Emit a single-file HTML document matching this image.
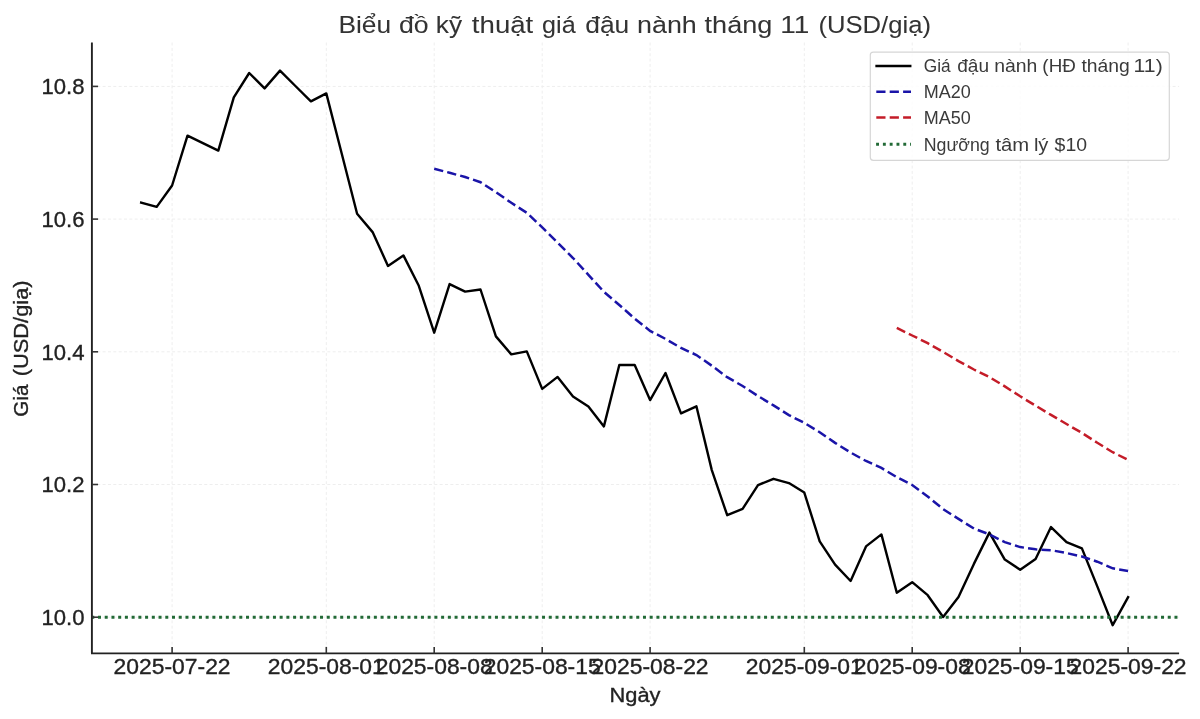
<!DOCTYPE html>
<html><head><meta charset="utf-8"><style>
html,body{margin:0;padding:0;background:#fff;}
svg{display:block;will-change:transform;}
text{font-family:"Liberation Sans", sans-serif;}
.grid{stroke:#eeeeee;stroke-width:1;stroke-dasharray:3 2.35;}
.tick{font-size:22px;fill:#222;stroke:#222;stroke-width:0.35px;}
.ytick{font-size:22px;fill:#222;stroke:#222;stroke-width:0.35px;}
.lab{font-size:20.5px;fill:#222;stroke:#222;stroke-width:0.35px;}
.title{font-size:24.5px;fill:#333;stroke:#333;stroke-width:0.05px;}
.leg{font-size:17.5px;fill:#3a3a3a;}
</style></head><body>
<svg width="1200" height="719" viewBox="0 0 1200 719">
<line x1="91.9" y1="617.2" x2="1179.1" y2="617.2" class="grid"/>
<line x1="91.9" y1="484.5" x2="1179.1" y2="484.5" class="grid"/>
<line x1="91.9" y1="351.8" x2="1179.1" y2="351.8" class="grid"/>
<line x1="91.9" y1="219.1" x2="1179.1" y2="219.1" class="grid"/>
<line x1="91.9" y1="86.4" x2="1179.1" y2="86.4" class="grid"/>
<line x1="172.1" y1="42.5" x2="172.1" y2="653.4" class="grid"/>
<line x1="326.3" y1="42.5" x2="326.3" y2="653.4" class="grid"/>
<line x1="434.2" y1="42.5" x2="434.2" y2="653.4" class="grid"/>
<line x1="542.2" y1="42.5" x2="542.2" y2="653.4" class="grid"/>
<line x1="650.1" y1="42.5" x2="650.1" y2="653.4" class="grid"/>
<line x1="804.3" y1="42.5" x2="804.3" y2="653.4" class="grid"/>
<line x1="912.2" y1="42.5" x2="912.2" y2="653.4" class="grid"/>
<line x1="1020.2" y1="42.5" x2="1020.2" y2="653.4" class="grid"/>
<line x1="1128.1" y1="42.5" x2="1128.1" y2="653.4" class="grid"/>
<polyline points="141.2,202.6 156.7,206.9 172.1,185.5 187.5,135.7 202.9,143.1 218.3,150.6 233.8,97.4 249.2,73.0 264.6,88.4 280.0,70.6 295.4,86.0 310.9,101.4 326.3,93.4 341.7,153.5 357.1,213.8 372.6,232.1 388.0,265.9 403.4,255.4 418.8,285.8 434.2,332.7 449.6,284.1 465.1,291.6 480.5,289.5 495.9,336.4 511.3,354.4 526.8,351.4 542.2,388.9 557.6,376.9 573.0,396.5 588.4,406.5 603.9,426.4 619.3,365.0 634.7,365.0 650.1,400.1 665.5,373.0 681.0,413.4 696.4,406.3 711.8,470.1 727.2,515.2 742.6,508.9 758.0,485.1 773.5,478.8 788.9,483.1 804.3,492.6 819.7,541.4 835.1,564.7 850.6,581.0 866.0,546.4 881.4,534.4 896.8,592.7 912.2,582.2 927.7,595.2 943.1,617.0 958.5,597.0 973.9,563.9 989.4,532.6 1004.8,559.6 1020.2,569.7 1035.6,558.9 1051.0,527.1 1066.5,542.1 1081.9,548.4 1097.3,586.4 1112.7,625.2 1128.1,597.2" fill="none" stroke="#000" stroke-width="2.4" stroke-linejoin="round" stroke-linecap="square"/>
<polyline points="434.2,168.7 449.6,172.8 465.1,177.0 480.5,182.2 495.9,192.2 511.3,202.8 526.8,212.8 542.2,227.4 557.6,242.6 573.0,258.0 588.4,274.8 603.9,291.8 619.3,305.0 634.7,318.6 650.1,330.9 665.5,338.9 681.0,347.9 696.4,355.0 711.8,365.7 727.2,377.2 742.6,386.0 758.0,396.0 773.5,405.4 788.9,415.1 804.3,422.9 819.7,432.2 835.1,442.9 850.6,452.5 866.0,461.0 881.4,467.9 896.8,477.2 912.2,485.0 927.7,496.5 943.1,509.1 958.5,518.9 973.9,528.5 989.4,534.4 1004.8,542.1 1020.2,547.1 1035.6,549.3 1051.0,550.2 1066.5,553.0 1081.9,556.5 1097.3,561.7 1112.7,568.3 1128.1,571.1" fill="none" stroke="#1a14a8" stroke-width="2.5" stroke-dasharray="9.3 4.15"/>
<polyline points="896.8,327.9 912.2,335.5 927.7,343.2 943.1,351.9 958.5,361.1 973.9,369.5 989.4,377.1 1004.8,386.4 1020.2,396.3 1035.6,405.7 1051.0,414.9 1066.5,424.0 1081.9,432.9 1097.3,442.8 1112.7,452.2 1128.1,459.9" fill="none" stroke="#c41c28" stroke-width="2.5" stroke-dasharray="9.3 4.15"/>
<line x1="91.27" y1="617.2" x2="1177.8" y2="617.2" stroke="#226a36" stroke-width="3" stroke-dasharray="3 3.728"/>
<line x1="91.9" y1="42.5" x2="91.9" y2="653.4" stroke="#222" stroke-width="1.9"/>
<line x1="91.0" y1="653.4" x2="1179.1" y2="653.4" stroke="#222" stroke-width="1.9"/>
<line x1="91.9" y1="617.2" x2="98.10000000000001" y2="617.2" stroke="#333" stroke-width="1.6"/>
<text x="84.5" y="625.0" text-anchor="end" class="ytick" textLength="43" lengthAdjust="spacingAndGlyphs">10.0</text>
<line x1="91.9" y1="484.5" x2="98.10000000000001" y2="484.5" stroke="#333" stroke-width="1.6"/>
<text x="84.5" y="492.3" text-anchor="end" class="ytick" textLength="43" lengthAdjust="spacingAndGlyphs">10.2</text>
<line x1="91.9" y1="351.8" x2="98.10000000000001" y2="351.8" stroke="#333" stroke-width="1.6"/>
<text x="84.5" y="359.6" text-anchor="end" class="ytick" textLength="43" lengthAdjust="spacingAndGlyphs">10.4</text>
<line x1="91.9" y1="219.1" x2="98.10000000000001" y2="219.1" stroke="#333" stroke-width="1.6"/>
<text x="84.5" y="226.9" text-anchor="end" class="ytick" textLength="43" lengthAdjust="spacingAndGlyphs">10.6</text>
<line x1="91.9" y1="86.4" x2="98.10000000000001" y2="86.4" stroke="#333" stroke-width="1.6"/>
<text x="84.5" y="94.2" text-anchor="end" class="ytick" textLength="43" lengthAdjust="spacingAndGlyphs">10.8</text>
<line x1="172.1" y1="653.4" x2="172.1" y2="646.9" stroke="#333" stroke-width="1.6"/>
<text x="172.1" y="674.1" text-anchor="middle" class="tick" textLength="117" lengthAdjust="spacingAndGlyphs">2025-07-22</text>
<line x1="326.3" y1="653.4" x2="326.3" y2="646.9" stroke="#333" stroke-width="1.6"/>
<text x="326.3" y="674.1" text-anchor="middle" class="tick" textLength="117" lengthAdjust="spacingAndGlyphs">2025-08-01</text>
<line x1="434.2" y1="653.4" x2="434.2" y2="646.9" stroke="#333" stroke-width="1.6"/>
<text x="434.2" y="674.1" text-anchor="middle" class="tick" textLength="117" lengthAdjust="spacingAndGlyphs">2025-08-08</text>
<line x1="542.2" y1="653.4" x2="542.2" y2="646.9" stroke="#333" stroke-width="1.6"/>
<text x="542.2" y="674.1" text-anchor="middle" class="tick" textLength="117" lengthAdjust="spacingAndGlyphs">2025-08-15</text>
<line x1="650.1" y1="653.4" x2="650.1" y2="646.9" stroke="#333" stroke-width="1.6"/>
<text x="650.1" y="674.1" text-anchor="middle" class="tick" textLength="117" lengthAdjust="spacingAndGlyphs">2025-08-22</text>
<line x1="804.3" y1="653.4" x2="804.3" y2="646.9" stroke="#333" stroke-width="1.6"/>
<text x="804.3" y="674.1" text-anchor="middle" class="tick" textLength="117" lengthAdjust="spacingAndGlyphs">2025-09-01</text>
<line x1="912.2" y1="653.4" x2="912.2" y2="646.9" stroke="#333" stroke-width="1.6"/>
<text x="912.2" y="674.1" text-anchor="middle" class="tick" textLength="117" lengthAdjust="spacingAndGlyphs">2025-09-08</text>
<line x1="1020.2" y1="653.4" x2="1020.2" y2="646.9" stroke="#333" stroke-width="1.6"/>
<text x="1020.2" y="674.1" text-anchor="middle" class="tick" textLength="117" lengthAdjust="spacingAndGlyphs">2025-09-15</text>
<line x1="1128.1" y1="653.4" x2="1128.1" y2="646.9" stroke="#333" stroke-width="1.6"/>
<text x="1128.1" y="674.1" text-anchor="middle" class="tick" textLength="117" lengthAdjust="spacingAndGlyphs">2025-09-22</text>
<text x="635" y="702.2" text-anchor="middle" class="lab" textLength="51" lengthAdjust="spacingAndGlyphs">Ngày</text>
<text transform="translate(27.7,415.8) rotate(-90)" x="-1.01" y="0" class="lab" textLength="32.24" lengthAdjust="spacingAndGlyphs">Giá</text>
<text transform="translate(27.7,375) rotate(-90)" x="-1.33" y="0" class="lab" textLength="95.95" lengthAdjust="spacingAndGlyphs">(USD/giạ)</text>
<text x="338.45" y="32.8" class="title" textLength="52.74" lengthAdjust="spacingAndGlyphs">Biểu</text>
<text x="398.91" y="32.8" class="title" textLength="29.68" lengthAdjust="spacingAndGlyphs">đồ</text>
<text x="435.76" y="32.8" class="title" textLength="26.28" lengthAdjust="spacingAndGlyphs">kỹ</text>
<text x="471.88" y="32.8" class="title" textLength="61.35" lengthAdjust="spacingAndGlyphs">thuật</text>
<text x="542.07" y="32.8" class="title" textLength="33.60" lengthAdjust="spacingAndGlyphs">giá</text>
<text x="585.22" y="32.8" class="title" textLength="44.03" lengthAdjust="spacingAndGlyphs">đậu</text>
<text x="637.02" y="32.8" class="title" textLength="59.77" lengthAdjust="spacingAndGlyphs">nành</text>
<text x="704.59" y="32.8" class="title" textLength="67.74" lengthAdjust="spacingAndGlyphs">tháng</text>
<text x="780.35" y="32.8" class="title" textLength="29.10" lengthAdjust="spacingAndGlyphs">11</text>
<text x="818.43" y="32.8" class="title" textLength="112.59" lengthAdjust="spacingAndGlyphs">(USD/giạ)</text>
<rect x="870.3" y="52.1" width="299" height="108.2" rx="3" ry="3" fill="#fff" fill-opacity="0.85" stroke="#d6d6d6" stroke-width="1.2"/>
<line x1="876.6" y1="66" x2="910.2" y2="66" stroke="#000" stroke-width="2.5" stroke-linecap="square"/>
<text x="923.84" y="72.3" class="leg" textLength="26.85" lengthAdjust="spacingAndGlyphs">Giá</text>
<text x="957.18" y="72.3" class="leg" textLength="31.82" lengthAdjust="spacingAndGlyphs">đậu</text>
<text x="994.25" y="72.3" class="leg" textLength="43.16" lengthAdjust="spacingAndGlyphs">nành</text>
<text x="1042.39" y="72.3" class="leg" textLength="33.43" lengthAdjust="spacingAndGlyphs">(HĐ</text>
<text x="1081.42" y="72.3" class="leg" textLength="48.37" lengthAdjust="spacingAndGlyphs">tháng</text>
<text x="1133.63" y="72.3" class="leg" textLength="29.13" lengthAdjust="spacingAndGlyphs">11)</text>
<line x1="876.3" y1="91.8" x2="911.0" y2="91.8" stroke="#1a14a8" stroke-width="2.5" stroke-dasharray="9.2 4.2"/>
<text x="923.8" y="98.1" class="leg" textLength="47" lengthAdjust="spacingAndGlyphs">MA20</text>
<line x1="876.3" y1="117.5" x2="911.0" y2="117.5" stroke="#c41c28" stroke-width="2.5" stroke-dasharray="9.2 4.2"/>
<text x="923.8" y="123.8" class="leg" textLength="47" lengthAdjust="spacingAndGlyphs">MA50</text>
<line x1="876.1" y1="144.2" x2="911.0" y2="144.2" stroke="#226a36" stroke-width="2.9" stroke-dasharray="2.9 3.9"/>
<text x="923.71" y="150.5" class="leg" textLength="65.96" lengthAdjust="spacingAndGlyphs">Ngưỡng</text>
<text x="995.51" y="150.5" class="leg" textLength="33.75" lengthAdjust="spacingAndGlyphs">tâm</text>
<text x="1033.90" y="150.5" class="leg" textLength="14.56" lengthAdjust="spacingAndGlyphs">lý</text>
<text x="1054.62" y="150.5" class="leg" textLength="32.46" lengthAdjust="spacingAndGlyphs">$10</text>
</svg>
</body></html>
